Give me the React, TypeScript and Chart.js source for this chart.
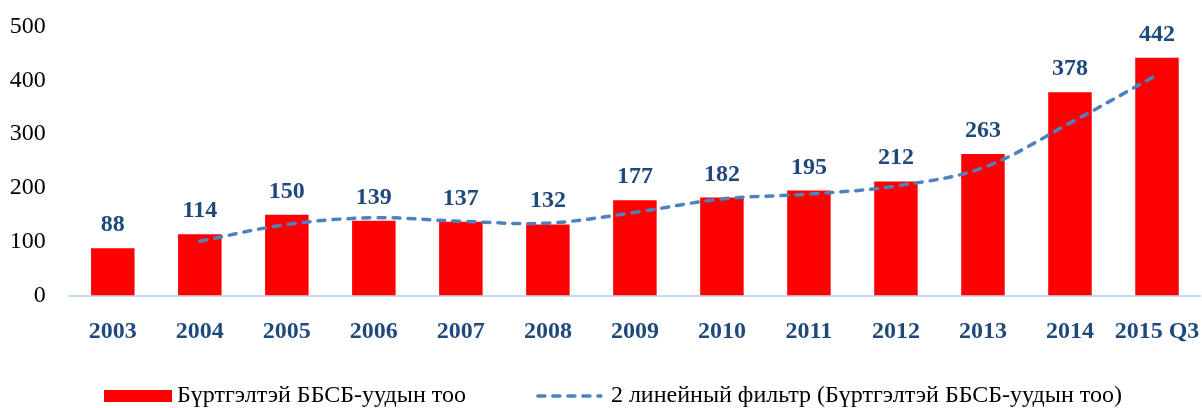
import React, { useEffect, useRef } from "react";
import { Chart, registerables } from "chart.js";

Chart.register(...registerables);

const categories = ["2003", "2004", "2005", "2006", "2007", "2008", "2009", "2010", "2011", "2012", "2013", "2014", "2015 Q3"];
const barValues = [88, 114, 150, 139, 137, 132, 177, 182, 195, 212, 263, 378, 442];
const filterValues = [null, 101, 132, 144.5, 138, 134.5, 154.5, 179.5, 188.5, 203.5, 237.5, 320.5, 410];
const yTicks = [0, 100, 200, 300, 400, 500];
const barLabel = "Бүртгэлтэй ББСБ-уудын тоо";
const lineLabel = "2 линейный фильтр (Бүртгэлтэй ББСБ-уудын тоо)";

const SERIF = "'Liberation Serif', 'Times New Roman', serif";
const LABEL_BLUE = "#1F497D";
const BAR_RED = "#FF0000";
const LINE_BLUE = "#4F81BD";
const DASH = [7, 8];

const dataLabelPlugin = {
  id: "dataLabels",
  afterDatasetsDraw(chart: any) {
    const ctx = chart.ctx;
    const meta = chart.getDatasetMeta(0);
    ctx.save();
    ctx.font = `bold 24px ${SERIF}`;
    ctx.fillStyle = LABEL_BLUE;
    ctx.textAlign = "center";
    ctx.textBaseline = "alphabetic";
    meta.data.forEach((bar: any, i: number) => {
      ctx.fillText(String(chart.data.datasets[0].data[i]), bar.x, bar.y - 17);
    });
    ctx.restore();
  },
};

const legendPlugin = {
  id: "customLegend",
  afterDraw(chart: any) {
    const ctx = chart.ctx;
    ctx.save();
    ctx.font = `24px ${SERIF}`;
    const boxW = 68;
    const lineW = 67;
    const w1 = ctx.measureText(barLabel).width;
    const y = 396;
    let x = 104;
    ctx.fillStyle = BAR_RED;
    ctx.fillRect(x, y - 6, boxW, 12);
    x += boxW + 5;
    ctx.fillStyle = "#000";
    ctx.textBaseline = "middle";
    ctx.textAlign = "left";
    ctx.fillText(barLabel, x, y);
    x += w1 + 70;
    ctx.strokeStyle = LINE_BLUE;
    ctx.lineWidth = 3.5;
    ctx.lineCap = "round";
    ctx.setLineDash(DASH);
    ctx.beginPath();
    ctx.moveTo(x + 2, y);
    ctx.lineTo(x + lineW - 2, y);
    ctx.stroke();
    ctx.setLineDash([]);
    x += lineW + 8;
    ctx.fillStyle = "#000";
    ctx.fillText(lineLabel, x, y);
    ctx.restore();
  },
};

export default function App() {
  const canvasRef = useRef<HTMLCanvasElement | null>(null);

  useEffect(() => {
    if (!canvasRef.current) return;
    const chart = new Chart(canvasRef.current, {
      type: "bar",
      data: {
        labels: categories,
        datasets: [
          {
            type: "bar",
            label: barLabel,
            data: barValues,
            backgroundColor: BAR_RED,
            borderWidth: 0,
            barPercentage: 0.5,
            categoryPercentage: 1,
            order: 1,
          },
          {
            type: "line",
            label: lineLabel,
            data: filterValues as any,
            borderColor: LINE_BLUE,
            backgroundColor: LINE_BLUE,
            borderWidth: 3.5,
            borderDash: DASH,
            borderCapStyle: "round",
            pointRadius: 0,
            pointHoverRadius: 0,
            tension: 0.35,
            fill: false,
            order: 0,
          },
        ],
      },
      options: {
        animation: false,
        responsive: true,
        maintainAspectRatio: false,
        layout: { padding: { top: 26.5, right: 1.5, bottom: 0, left: 0 } },
        plugins: {
          legend: { display: false },
          tooltip: { enabled: false },
        },
        scales: {
          x: {
            grid: { display: false, drawTicks: false },
            border: { display: true, color: "#C6D9F0", width: 2 },
            ticks: {
              color: LABEL_BLUE,
              font: { family: SERIF, size: 24, weight: "bold" },
              padding: 22,
              maxRotation: 0,
              autoSkip: false,
            },
            afterFit(scale: any) {
              scale.height = 112.5;
              scale.paddingLeft = 0;
              scale.paddingRight = 0;
            },
          },
          y: {
            min: 0,
            max: 500,
            grid: { display: false, drawTicks: false },
            border: { display: false },
            afterBuildTicks(scale: any) {
              scale.ticks = yTicks.map((v) => ({ value: v }));
            },
            ticks: {
              color: "#000",
              font: { family: SERIF, size: 24 },
              padding: 23.5,
            },
            afterFit(scale: any) {
              scale.width = 69.3;
              scale.paddingTop = 0;
              scale.paddingBottom = 0;
            },
          },
        },
      },
      plugins: [dataLabelPlugin, legendPlugin],
    });
    return () => chart.destroy();
  }, []);

  return (
    <div style={{ position: "fixed", left: 0, top: 0, width: 1202, height: 408, background: "#fff" }}>
      <canvas ref={canvasRef} />
    </div>
  );
}
